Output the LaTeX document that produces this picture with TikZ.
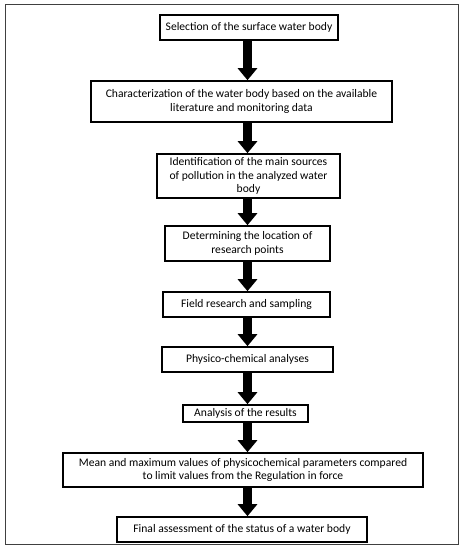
\documentclass[tikz,border=0pt]{standalone}
\usepackage{fontspec}
\setmainfont{Carlito}
\usepackage{tikz}
\usetikzlibrary{arrows.meta}

\tikzset{
  stepbox/.style={draw, line width=1.6pt, align=center, inner sep=1pt,
    font=\fontsize{11.6}{13.6}\selectfont},
  bigarrow/.style={line width=9pt, -{Triangle[width=19pt,length=12pt]}}
}

\begin{document}
\begin{tikzpicture}[x=1pt, y=-1pt]
    \useasboundingbox (0,0) rectangle (465,550);
    % Draw outer frame
    \draw[line width=1pt, black!75] (5,4) rectangle (458,544);

    % Steps
    \node[stepbox, minimum width=178pt, minimum height=25pt] (select) at (249,27.5)
      {Selection of the surface water body};
    \node[stepbox, minimum width=301pt, minimum height=41pt] (charact) at (241.5,101.5)
      {Characterization of the water body based on the available\\literature and monitoring data};
    \node[stepbox, minimum width=183pt, minimum height=44pt] (ident) at (248.5,176)
      {Identification of the main sources\\of pollution in the analyzed water\\body};
    \node[stepbox, minimum width=165pt, minimum height=35pt] (location) at (247.5,243.5)
      {Determining the location of\\research points};
    \node[stepbox, minimum width=167pt, minimum height=25pt] (field) at (246.5,304.5)
      {Field research and sampling};
    \node[stepbox, minimum width=171pt, minimum height=25pt] (physico) at (247.5,359.5)
      {Physico-chemical analyses};
    \node[stepbox, minimum width=125pt, minimum height=17pt] (results) at (245.5,413.5)
      {Analysis of the results};
    \node[stepbox, minimum width=360pt, minimum height=34pt] (compare) at (243,470)
      {Mean and maximum values of physicochemical parameters compared\\to limit values from the Regulation in force};
    \node[stepbox, minimum width=250pt, minimum height=25pt] (final) at (242,529.5)
      {Final assessment of the status of a water body};

    % Draw arrows between the steps
    \coordinate (axis) at (247.5,0);
    \foreach \a/\b in {select/charact, charact/ident, ident/location, location/field,
                       field/physico, physico/results, results/compare, compare/final} {
      \draw[bigarrow] (\a.south -| axis) -- (\b.north -| axis);
    }

\end{tikzpicture}
\end{document}
